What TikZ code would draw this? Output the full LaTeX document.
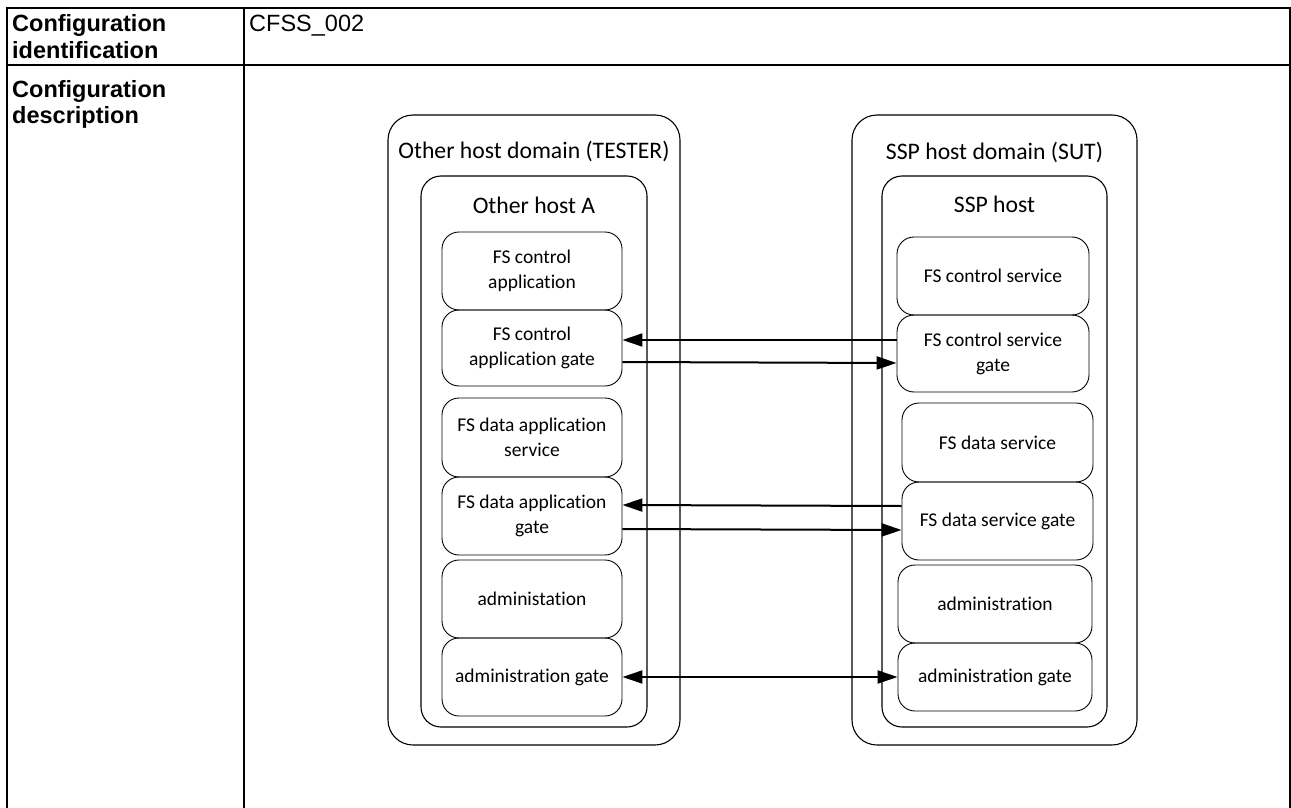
\documentclass[tikz,border=0pt]{standalone}
\usepackage{fontspec}
\setmainfont{Liberation Sans}
\newfontfamily\diagfont[Ligatures=NoCommon]{Carlito}
\usetikzlibrary{arrows.meta}

\begin{document}
\begin{tikzpicture}[x=1pt,y=-1pt,>={Triangle[length=20pt,width=13pt]},
    cell text/.style={inner sep=0,anchor=base west,align=left,font=\fontsize{23.5}{27}\selectfont},
    cell head/.style={cell text,font=\bfseries\fontsize{23.5}{27}\selectfont},
    domain box/.style={draw,rounded corners=25pt,line width=1.1pt,inner sep=0},
    host box/.style={draw,rounded corners=20pt,line width=1.1pt,inner sep=0},
    part box/.style={draw,rounded corners=17pt,line width=0.9pt,inner sep=0,align=center,font=\diagfont\fontsize{19.5}{25}\selectfont},
    title/.style={inner sep=0,anchor=base,font=\diagfont\fontsize{23.7}{27}\selectfont},
    link/.style={line width=2pt}]
    \useasboundingbox (0,0) rectangle (1291,808);

    % table
    \draw[line width=2pt] (7,808) -- (7,8) -- (1290,8) -- (1290,808);
    \draw[line width=2pt] (7,65) -- (1290,65);
    \draw[line width=2pt] (244,8) -- (244,808);
    \node[cell head] (idlabel) at (12,59) {Configuration\\identification};
    \node[cell text] (idvalue) at (249,32) {CFSS\_002};
    \node[cell head] (desclabel) at (12,124) {Configuration\\description};

    % tester side
    \node[domain box,minimum width=292,minimum height=630] (tester) at (534,430) {};
    \node[title] (testertitle) at (534,158) {Other host domain (TESTER)};
    \node[host box,minimum width=226,minimum height=551] (hosta) at (534,451.5) {};
    \node[title] (hostatitle) at (534,213) {Other host A};
    \node[part box,minimum width=180,minimum height=78] (lca) at (532,271) {FS control\\application};
    \node[part box,minimum width=180,minimum height=76] (lcg) at (532,348) {FS control\\application gate};
    \node[part box,minimum width=180,minimum height=79] (lda) at (532,437.5) {FS data application\\service};
    \node[part box,minimum width=180,minimum height=78] (ldg) at (532,516) {FS data application\\gate};
    \node[part box,minimum width=180,minimum height=78] (lad) at (532,599) {administation};
    \node[part box,minimum width=180,minimum height=78] (lag) at (532,677) {administration gate};

    % sut side
    \node[domain box,minimum width=285,minimum height=630] (sut) at (994.5,430) {};
    \node[title] (suttitle) at (994.5,159) {SSP host domain (SUT)};
    \node[host box,minimum width=225,minimum height=551] (ssphost) at (994.5,451.5) {};
    \node[title] (ssphosttitle) at (994.5,212) {SSP host};
    \node[part box,minimum width=192,minimum height=78] (rcs) at (993,276) {FS control service};
    \node[part box,minimum width=192,minimum height=77] (rcg) at (993,353.5) {FS control service\\gate};
    \node[part box,minimum width=191,minimum height=79] (rds) at (997.5,442.5) {FS data service};
    \node[part box,minimum width=191,minimum height=78] (rdg) at (997.5,521) {FS data service gate};
    \node[part box,minimum width=194,minimum height=78] (rad) at (995,604) {administration};
    \node[part box,minimum width=194,minimum height=68] (rag) at (995,677) {administration gate};

    \path[link]
        ([yshift=13.5pt]rcg.west) edge[->] ([yshift=8pt]lcg.east)
        ([yshift=-14pt]lcg.east) edge[->] ([yshift=-9.5pt]rcg.west)
        ([yshift=15pt]rdg.west) edge[->] ([yshift=11pt]ldg.east)
        ([yshift=-13pt]ldg.east) edge[->] ([yshift=-9pt]rdg.west)
        (lag.east) edge[<->] (rag.west)
    ;
\end{tikzpicture}
\end{document}
